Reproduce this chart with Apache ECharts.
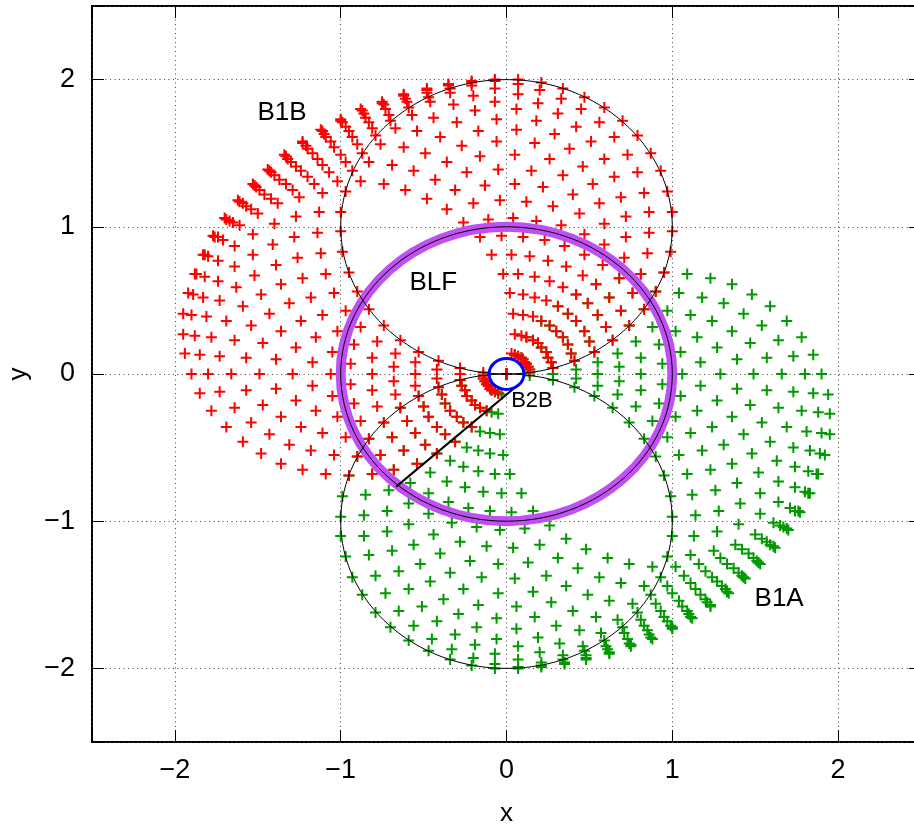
<!DOCTYPE html>
<html><head><meta charset="utf-8">
<script src="https://cdn.jsdelivr.net/npm/echarts/dist/echarts.min.js"></script>
<style>html,body{margin:0;padding:0;background:#fff}#c{width:914px;height:825px}</style>
</head><body><div id="c"></div>
<script>
// ---- data ----
// B1B (red crosses), grouped along each of the ten circles they sit on
const B1B = [
[1.0,1.1],[.97,1.24],[.93,1.38],[.87,1.5],[.79,1.62],[.7,1.72],[.59,1.81],[.47,1.88],[.34,1.94],[.21,1.98],[.07,2.0],[-.07,2.0],[-.21,1.98],[-.34,1.94],[-.47,1.88],[-.59,1.81],[-.7,1.72],[-.79,1.62],[-.87,1.5],[-.93,1.38],[-.97,1.24],[-1.0,1.1],[-1.0,.97],[-.99,.83],[-.95,.69],[-.9,.56],[-.83,.44],[-.74,.33],[-.64,.23],[-.53,.15],[-.41,.09],[-.28,.04],[-.14,.01],[0,0],[.14,.01],[.28,.04],[.41,.09],[.53,.15],[.64,.23],[.74,.33],[.83,.44],[.9,.56],[.95,.69],[.99,.83],[1.0,.97],
[.86,1.1],[.83,1.23],[.79,1.37],[.73,1.49],[.65,1.61],[.56,1.71],[.45,1.8],[.33,1.87],[.2,1.93],[.07,1.97],[-.07,1.99],[-.21,1.99],[-.35,1.97],[-.48,1.93],[-.61,1.87],[-.73,1.8],[-.83,1.71],[-.93,1.61],[-1.0,1.49],[-1.07,1.37],[-1.11,1.23],[-1.13,1.1],[-1.14,.96],[-1.12,.82],[-1.09,.68],[-1.04,.55],[-.97,.43],[-.88,.32],[-.78,.22],[-.67,.14],[-.55,.08],[-.42,.03],[-.28,0],[-.14,-.01],[0,0],[.14,.03],[.27,.08],[.39,.14],[.5,.22],[.6,.32],[.69,.43],[.76,.55],[.81,.68],[.85,.82],[.86,.96],
[.72,1.07],[.69,1.2],[.65,1.34],[.59,1.46],[.51,1.58],[.42,1.68],[.31,1.77],[.19,1.84],[.07,1.9],[-.07,1.94],[-.21,1.96],[-.35,1.96],[-.48,1.94],[-.62,1.9],[-.75,1.84],[-.86,1.77],[-.97,1.68],[-1.06,1.58],[-1.14,1.46],[-1.2,1.34],[-1.25,1.2],[-1.27,1.07],[-1.28,.93],[-1.26,.79],[-1.23,.65],[-1.18,.52],[-1.11,.4],[-1.02,.29],[-.92,.2],[-.81,.11],[-.68,.05],[-.55,0],[-.42,-.03],[-.28,-.04],[-.14,-.03],[0,0],[.13,.05],[.25,.11],[.37,.2],[.47,.29],[.55,.4],[.62,.52],[.68,.65],[.71,.79],[.72,.93],
[.59,1.02],[.56,1.16],[.52,1.29],[.46,1.41],[.38,1.53],[.29,1.63],[.18,1.72],[.06,1.8],[-.07,1.85],[-.2,1.89],[-.34,1.91],[-.48,1.91],[-.62,1.89],[-.75,1.85],[-.88,1.8],[-1.0,1.72],[-1.1,1.63],[-1.2,1.53],[-1.27,1.41],[-1.33,1.29],[-1.38,1.16],[-1.4,1.02],[-1.41,.88],[-1.39,.74],[-1.36,.61],[-1.31,.48],[-1.24,.36],[-1.15,.25],[-1.05,.15],[-.94,.07],[-.81,0],[-.68,-.05],[-.55,-.08],[-.41,-.09],[-.27,-.08],[-.13,-.05],[0,0],[.12,.07],[.24,.15],[.34,.25],[.42,.36],[.49,.48],[.54,.61],[.58,.74],[.59,.88],
[.47,.95],[.44,1.09],[.4,1.22],[.34,1.35],[.26,1.46],[.17,1.57],[.06,1.66],[-.06,1.73],[-.19,1.79],[-.32,1.83],[-.46,1.85],[-.6,1.85],[-.74,1.83],[-.87,1.79],[-1.0,1.73],[-1.12,1.66],[-1.23,1.57],[-1.32,1.46],[-1.4,1.35],[-1.46,1.22],[-1.5,1.09],[-1.53,.95],[-1.53,.81],[-1.52,.67],[-1.48,.54],[-1.43,.41],[-1.36,.29],[-1.27,.18],[-1.17,.08],[-1.06,0],[-.94,-.07],[-.81,-.11],[-.67,-.14],[-.53,-.15],[-.39,-.14],[-.25,-.11],[-.12,-.07],[0,0],[.11,.08],[.21,.18],[.3,.29],[.37,.41],[.42,.54],[.46,.67],[.47,.81],
[.35,.87],[.33,1.01],[.28,1.14],[.22,1.27],[.15,1.38],[.05,1.49],[-.06,1.58],[-.17,1.65],[-.3,1.71],[-.44,1.74],[-.57,1.76],[-.71,1.76],[-.85,1.74],[-.99,1.71],[-1.11,1.65],[-1.23,1.58],[-1.34,1.49],[-1.43,1.38],[-1.51,1.27],[-1.57,1.14],[-1.61,1.01],[-1.64,.87],[-1.64,.73],[-1.63,.59],[-1.59,.46],[-1.54,.33],[-1.47,.21],[-1.39,.1],[-1.29,0],[-1.17,-.08],[-1.05,-.15],[-.92,-.2],[-.78,-.22],[-.64,-.23],[-.5,-.22],[-.37,-.2],[-.24,-.15],[-.11,-.08],[0,0],[.1,.1],[.19,.21],[.26,.33],[.31,.46],[.34,.59],[.36,.73],
[.25,.77],[.23,.91],[.18,1.04],[.12,1.17],[.05,1.29],[-.05,1.39],[-.16,1.48],[-.27,1.55],[-.4,1.61],[-.54,1.65],[-.67,1.67],[-.81,1.67],[-.95,1.65],[-1.09,1.61],[-1.21,1.55],[-1.33,1.48],[-1.44,1.39],[-1.53,1.29],[-1.61,1.17],[-1.67,1.04],[-1.71,.91],[-1.74,.77],[-1.74,.63],[-1.73,.5],[-1.69,.36],[-1.64,.23],[-1.57,.11],[-1.49,0],[-1.39,-.1],[-1.27,-.18],[-1.15,-.25],[-1.02,-.29],[-.88,-.32],[-.74,-.33],[-.6,-.32],[-.47,-.29],[-.34,-.25],[-.21,-.18],[-.1,-.1],[0,0],[.09,.11],[.16,.23],[.21,.36],[.24,.5],[.26,.63],
[.17,.66],[.14,.8],[.1,.93],[.04,1.06],[-.04,1.18],[-.13,1.28],[-.24,1.37],[-.36,1.44],[-.49,1.5],[-.62,1.54],[-.76,1.56],[-.9,1.56],[-1.04,1.54],[-1.17,1.5],[-1.3,1.44],[-1.42,1.37],[-1.52,1.28],[-1.62,1.18],[-1.7,1.06],[-1.76,.93],[-1.8,.8],[-1.82,.66],[-1.83,.52],[-1.81,.39],[-1.78,.25],[-1.73,.12],[-1.66,0],[-1.57,-.11],[-1.47,-.21],[-1.36,-.29],[-1.24,-.36],[-1.11,-.4],[-.97,-.43],[-.83,-.44],[-.69,-.43],[-.55,-.4],[-.42,-.36],[-.3,-.29],[-.19,-.21],[-.09,-.11],[0,0],[.07,.12],[.12,.25],[.16,.39],[.17,.52],
[.1,.54],[.07,.68],[.03,.81],[-.03,.94],[-.11,1.05],[-.2,1.16],[-.31,1.25],[-.43,1.32],[-.56,1.38],[-.69,1.42],[-.83,1.44],[-.97,1.44],[-1.11,1.42],[-1.24,1.38],[-1.37,1.32],[-1.49,1.25],[-1.59,1.16],[-1.69,1.05],[-1.77,.94],[-1.83,.81],[-1.87,.68],[-1.89,.54],[-1.9,.4],[-1.88,.26],[-1.85,.13],[-1.8,0],[-1.73,-.12],[-1.64,-.23],[-1.54,-.33],[-1.43,-.41],[-1.31,-.48],[-1.18,-.52],[-1.04,-.55],[-.9,-.56],[-.76,-.55],[-.62,-.52],[-.49,-.48],[-.37,-.41],[-.26,-.33],[-.16,-.23],[-.07,-.12],[0,0],[.05,.13],[.09,.26],[.1,.4],
[.04,.41],[.02,.55],[-.02,.68],[-.09,.81],[-.16,.93],[-.26,1.03],[-.36,1.12],[-.48,1.19],[-.61,1.25],[-.74,1.29],[-.88,1.31],[-1.02,1.31],[-1.16,1.29],[-1.29,1.25],[-1.42,1.19],[-1.54,1.12],[-1.65,1.03],[-1.74,.93],[-1.82,.81],[-1.88,.68],[-1.92,.55],[-1.95,.41],[-1.95,.27],[-1.94,.14],[-1.9,0],[-1.85,-.13],[-1.78,-.25],[-1.69,-.36],[-1.59,-.46],[-1.48,-.54],[-1.36,-.61],[-1.23,-.65],[-1.09,-.68],[-.95,-.69],[-.81,-.68],[-.68,-.65],[-.54,-.61],[-.42,-.54],[-.31,-.46],[-.21,-.36],[-.12,-.25],[-.05,-.13],[0,0],[.03,.14],[.05,.27]
];
// B1A (green crosses)
const B1A = [
[-1.0,-1.1],[-.97,-1.24],[-.93,-1.38],[-.87,-1.5],[-.79,-1.62],[-.7,-1.72],[-.59,-1.81],[-.47,-1.88],[-.34,-1.94],[-.21,-1.98],[-.07,-2.0],[.07,-2.0],[.21,-1.98],[.34,-1.94],[.47,-1.88],[.59,-1.81],[.7,-1.72],[.79,-1.62],[.87,-1.5],[.93,-1.38],[.97,-1.24],[1.0,-1.1],[1.0,-.97],[.99,-.83],[.95,-.69],[.9,-.56],[.83,-.44],[.74,-.33],[.64,-.23],[.53,-.15],[.41,-.09],[.28,-.04],[.14,-.01],[0,0],[-.14,-.01],[-.28,-.04],[-.41,-.09],[-.53,-.15],[-.64,-.23],[-.74,-.33],[-.83,-.44],[-.9,-.56],[-.95,-.69],[-.99,-.83],[-1.0,-.97],
[-.86,-1.1],[-.83,-1.23],[-.79,-1.37],[-.73,-1.49],[-.65,-1.61],[-.56,-1.71],[-.45,-1.8],[-.33,-1.87],[-.2,-1.93],[-.07,-1.97],[.07,-1.99],[.21,-1.99],[.35,-1.97],[.48,-1.93],[.61,-1.87],[.73,-1.8],[.83,-1.71],[.93,-1.61],[1.0,-1.49],[1.07,-1.37],[1.11,-1.23],[1.13,-1.1],[1.14,-.96],[1.12,-.82],[1.09,-.68],[1.04,-.55],[.97,-.43],[.88,-.32],[.78,-.22],[.67,-.14],[.55,-.08],[.42,-.03],[.28,0],[.14,.01],[0,0],[-.14,-.03],[-.27,-.08],[-.39,-.14],[-.5,-.22],[-.6,-.32],[-.69,-.43],[-.76,-.55],[-.81,-.68],[-.85,-.82],[-.86,-.96],
[-.72,-1.07],[-.69,-1.2],[-.65,-1.34],[-.59,-1.46],[-.51,-1.58],[-.42,-1.68],[-.31,-1.77],[-.19,-1.84],[-.07,-1.9],[.07,-1.94],[.21,-1.96],[.35,-1.96],[.48,-1.94],[.62,-1.9],[.75,-1.84],[.86,-1.77],[.97,-1.68],[1.06,-1.58],[1.14,-1.46],[1.2,-1.34],[1.25,-1.2],[1.27,-1.07],[1.28,-.93],[1.26,-.79],[1.23,-.65],[1.18,-.52],[1.11,-.4],[1.02,-.29],[.92,-.2],[.81,-.11],[.68,-.05],[.55,0],[.42,.03],[.28,.04],[.14,.03],[0,0],[-.13,-.05],[-.25,-.11],[-.37,-.2],[-.47,-.29],[-.55,-.4],[-.62,-.52],[-.68,-.65],[-.71,-.79],[-.72,-.93],
[-.59,-1.02],[-.56,-1.16],[-.52,-1.29],[-.46,-1.41],[-.38,-1.53],[-.29,-1.63],[-.18,-1.72],[-.06,-1.8],[.07,-1.85],[.2,-1.89],[.34,-1.91],[.48,-1.91],[.62,-1.89],[.75,-1.85],[.88,-1.8],[1.0,-1.72],[1.1,-1.63],[1.2,-1.53],[1.27,-1.41],[1.33,-1.29],[1.38,-1.16],[1.4,-1.02],[1.41,-.88],[1.39,-.74],[1.36,-.61],[1.31,-.48],[1.24,-.36],[1.15,-.25],[1.05,-.15],[.94,-.07],[.81,0],[.68,.05],[.55,.08],[.41,.09],[.27,.08],[.13,.05],[0,0],[-.12,-.07],[-.24,-.15],[-.34,-.25],[-.42,-.36],[-.49,-.48],[-.54,-.61],[-.58,-.74],[-.59,-.88],
[-.47,-.95],[-.44,-1.09],[-.4,-1.22],[-.34,-1.35],[-.26,-1.46],[-.17,-1.57],[-.06,-1.66],[.06,-1.73],[.19,-1.79],[.32,-1.83],[.46,-1.85],[.6,-1.85],[.74,-1.83],[.87,-1.79],[1.0,-1.73],[1.12,-1.66],[1.23,-1.57],[1.32,-1.46],[1.4,-1.35],[1.46,-1.22],[1.5,-1.09],[1.53,-.95],[1.53,-.81],[1.52,-.67],[1.48,-.54],[1.43,-.41],[1.36,-.29],[1.27,-.18],[1.17,-.08],[1.06,0],[.94,.07],[.81,.11],[.67,.14],[.53,.15],[.39,.14],[.25,.11],[.12,.07],[0,0],[-.11,-.08],[-.21,-.18],[-.3,-.29],[-.37,-.41],[-.42,-.54],[-.46,-.67],[-.47,-.81],
[-.35,-.87],[-.33,-1.01],[-.28,-1.14],[-.22,-1.27],[-.15,-1.38],[-.05,-1.49],[.06,-1.58],[.17,-1.65],[.3,-1.71],[.44,-1.74],[.57,-1.76],[.71,-1.76],[.85,-1.74],[.99,-1.71],[1.11,-1.65],[1.23,-1.58],[1.34,-1.49],[1.43,-1.38],[1.51,-1.27],[1.57,-1.14],[1.61,-1.01],[1.64,-.87],[1.64,-.73],[1.63,-.59],[1.59,-.46],[1.54,-.33],[1.47,-.21],[1.39,-.1],[1.29,0],[1.17,.08],[1.05,.15],[.92,.2],[.78,.22],[.64,.23],[.5,.22],[.37,.2],[.24,.15],[.11,.08],[0,0],[-.1,-.1],[-.19,-.21],[-.26,-.33],[-.31,-.46],[-.34,-.59],[-.36,-.73],
[-.25,-.77],[-.23,-.91],[-.18,-1.04],[-.12,-1.17],[-.05,-1.29],[.05,-1.39],[.16,-1.48],[.27,-1.55],[.4,-1.61],[.54,-1.65],[.67,-1.67],[.81,-1.67],[.95,-1.65],[1.09,-1.61],[1.21,-1.55],[1.33,-1.48],[1.44,-1.39],[1.53,-1.29],[1.61,-1.17],[1.67,-1.04],[1.71,-.91],[1.74,-.77],[1.74,-.63],[1.73,-.5],[1.69,-.36],[1.64,-.23],[1.57,-.11],[1.49,0],[1.39,.1],[1.27,.18],[1.15,.25],[1.02,.29],[.88,.32],[.74,.33],[.6,.32],[.47,.29],[.34,.25],[.21,.18],[.1,.1],[0,0],[-.09,-.11],[-.16,-.23],[-.21,-.36],[-.24,-.5],[-.26,-.63],
[-.17,-.66],[-.14,-.8],[-.1,-.93],[-.04,-1.06],[.04,-1.18],[.13,-1.28],[.24,-1.37],[.36,-1.44],[.49,-1.5],[.62,-1.54],[.76,-1.56],[.9,-1.56],[1.04,-1.54],[1.17,-1.5],[1.3,-1.44],[1.42,-1.37],[1.52,-1.28],[1.62,-1.18],[1.7,-1.06],[1.76,-.93],[1.8,-.8],[1.82,-.66],[1.83,-.52],[1.81,-.39],[1.78,-.25],[1.73,-.12],[1.66,0],[1.57,.11],[1.47,.21],[1.36,.29],[1.24,.36],[1.11,.4],[.97,.43],[.83,.44],[.69,.43],[.55,.4],[.42,.36],[.3,.29],[.19,.21],[.09,.11],[0,0],[-.07,-.12],[-.12,-.25],[-.16,-.39],[-.17,-.52],
[-.1,-.54],[-.07,-.68],[-.03,-.81],[.03,-.94],[.11,-1.05],[.2,-1.16],[.31,-1.25],[.43,-1.32],[.56,-1.38],[.69,-1.42],[.83,-1.44],[.97,-1.44],[1.11,-1.42],[1.24,-1.38],[1.37,-1.32],[1.49,-1.25],[1.59,-1.16],[1.69,-1.05],[1.77,-.94],[1.83,-.81],[1.87,-.68],[1.89,-.54],[1.9,-.4],[1.88,-.26],[1.85,-.13],[1.8,0],[1.73,.12],[1.64,.23],[1.54,.33],[1.43,.41],[1.31,.48],[1.18,.52],[1.04,.55],[.9,.56],[.76,.55],[.62,.52],[.49,.48],[.37,.41],[.26,.33],[.16,.23],[.07,.12],[0,0],[-.05,-.13],[-.09,-.26],[-.1,-.4],
[-.04,-.41],[-.02,-.55],[.02,-.68],[.09,-.81],[.16,-.93],[.26,-1.03],[.36,-1.12],[.48,-1.19],[.61,-1.25],[.74,-1.29],[.88,-1.31],[1.02,-1.31],[1.16,-1.29],[1.29,-1.25],[1.42,-1.19],[1.54,-1.12],[1.65,-1.03],[1.74,-.93],[1.82,-.81],[1.88,-.68],[1.92,-.55],[1.95,-.41],[1.95,-.27],[1.94,-.14],[1.9,0],[1.85,.13],[1.78,.25],[1.69,.36],[1.59,.46],[1.48,.54],[1.36,.61],[1.23,.65],[1.09,.68],[.95,.69],[.81,.68],[.68,.65],[.54,.61],[.42,.54],[.31,.46],[.21,.36],[.12,.25],[.05,.13],[0,0],[-.03,-.14],[-.05,-.27]
];
// circles: [centre x, centre y, radius]
const guideCircles = [[0, 1, 1], [0, -1, 1], [0, 0, 1]];
const BLF = [[0, 0, 1]];
const B2B = [[0, 0, 0.105]];
const guideSegment = [[0.08, -0.065], [-0.665, -0.765]];
// text labels
const labelNames = ['B1B', 'BLF', 'B2B', 'B1A'];
const labelX = [-1.502, -0.585, 0.028, 1.496];
const labelY = [1.776, 0.619, -0.182, -1.527];
const labelSize = [26, 26, 22, 26];
const axisRange = [-2.5, 2.5];

// ---- chart ----
const FONT = '"Liberation Sans", Arial, sans-serif';
const plus = 'path://M4.5,0H6.5V4.5H11V6.5H6.5V11H4.5V6.5H0V4.5H4.5Z';
const tickFmt = v => {
  const r = Math.round(v);
  if (Math.abs(v - r) > 1e-9) return '';
  return r < 0 ? '\u2212' + (-r) : String(r);
};
function ellipseRender(stroke, lw) {
  return function (params, api) {
    const c = api.coord([api.value(0), api.value(1)]);
    const s = api.size([api.value(2), api.value(2)]);
    return {type: 'ellipse', silent: true,
      shape: {cx: c[0], cy: c[1], rx: s[0], ry: s[1]},
      style: {fill: 'none', stroke: stroke, lineWidth: lw}};
  };
}
const tickStyle = {show: true, inside: true, length: 12, lineStyle: {color: '#000', width: 1}};
const mainAxis = (name, gap, pos, margin) => ({
  type: 'value', min: axisRange[0], max: axisRange[1], splitNumber: 5, position: pos,
  axisLine: {show: false, onZero: false},
  axisTick: tickStyle,
  axisLabel: {formatter: tickFmt, color: '#000', fontSize: 27, fontFamily: FONT, margin: margin},
  splitLine: {show: true, lineStyle: {color: '#444', width: 1, type: [1, 3.5]}},
  name: name, nameLocation: 'middle', nameGap: gap,
  nameTextStyle: {color: '#000', fontSize: 26, fontFamily: FONT}
});
const mirrorAxis = (pos) => ({
  type: 'value', min: axisRange[0], max: axisRange[1], splitNumber: 5, position: pos,
  axisLine: {show: false, onZero: false},
  axisTick: tickStyle,
  axisLabel: {show: false}, splitLine: {show: false}
});

const chart = echarts.init(document.getElementById('c'), null, {renderer: 'canvas'});
chart.setOption({
  animation: false,
  backgroundColor: '#fff',
  grid: {left: 92, top: 6, width: 829, height: 736, show: true, borderColor: '#000', borderWidth: 2,
         backgroundColor: 'transparent', containLabel: false, outerBoundsMode: 'none'},
  xAxis: [mainAxis('x', 59, 'bottom', 15), mirrorAxis('top')],
  yAxis: [mainAxis('y', 60, 'left', 17), mirrorAxis('right')],
  series: [
    {type: 'scatter', name: 'B1A', data: B1A, symbol: plus, symbolSize: 11, silent: true,
     itemStyle: {color: '#009a00', opacity: 1}, z: 2},
    {type: 'scatter', name: 'B1B', data: B1B, symbol: plus, symbolSize: 11, silent: true,
     itemStyle: {color: '#ff0000', opacity: 1}, z: 2},
    {type: 'custom', name: 'BLF', data: BLF, dimensions: ['x', 'y', 'r'], encode: {x: 0, y: 1},
     renderItem: ellipseRender('#c050f4', 10), silent: true, z: 3},
    {type: 'custom', name: 'guides', data: guideCircles, dimensions: ['x', 'y', 'r'], encode: {x: 0, y: 1},
     renderItem: ellipseRender('#000', 1), silent: true, z: 4},
    {type: 'line', name: 'segment', data: guideSegment, showSymbol: false, silent: true,
     lineStyle: {color: '#000', width: 2}, z: 4},
    {type: 'custom', name: 'B2B', data: B2B, dimensions: ['x', 'y', 'r'], encode: {x: 0, y: 1},
     renderItem: ellipseRender('#0000ff', 3), silent: true, z: 5},
    {type: 'custom', name: 'labels', silent: true, z: 6,
     data: labelNames.map((t, i) => [labelX[i], labelY[i], i]),
     dimensions: ['x', 'y', 'i'], encode: {x: 0, y: 1},
     renderItem: function (params, api) {
       const i = api.value(2);
       const c = api.coord([api.value(0), api.value(1)]);
       return {type: 'text', x: c[0], y: c[1], silent: true,
         style: {text: labelNames[i], fill: '#000', font: labelSize[i] + 'px ' + FONT,
                 align: 'left', verticalAlign: 'middle'}};
     }}
  ]
});
</script></body></html>
